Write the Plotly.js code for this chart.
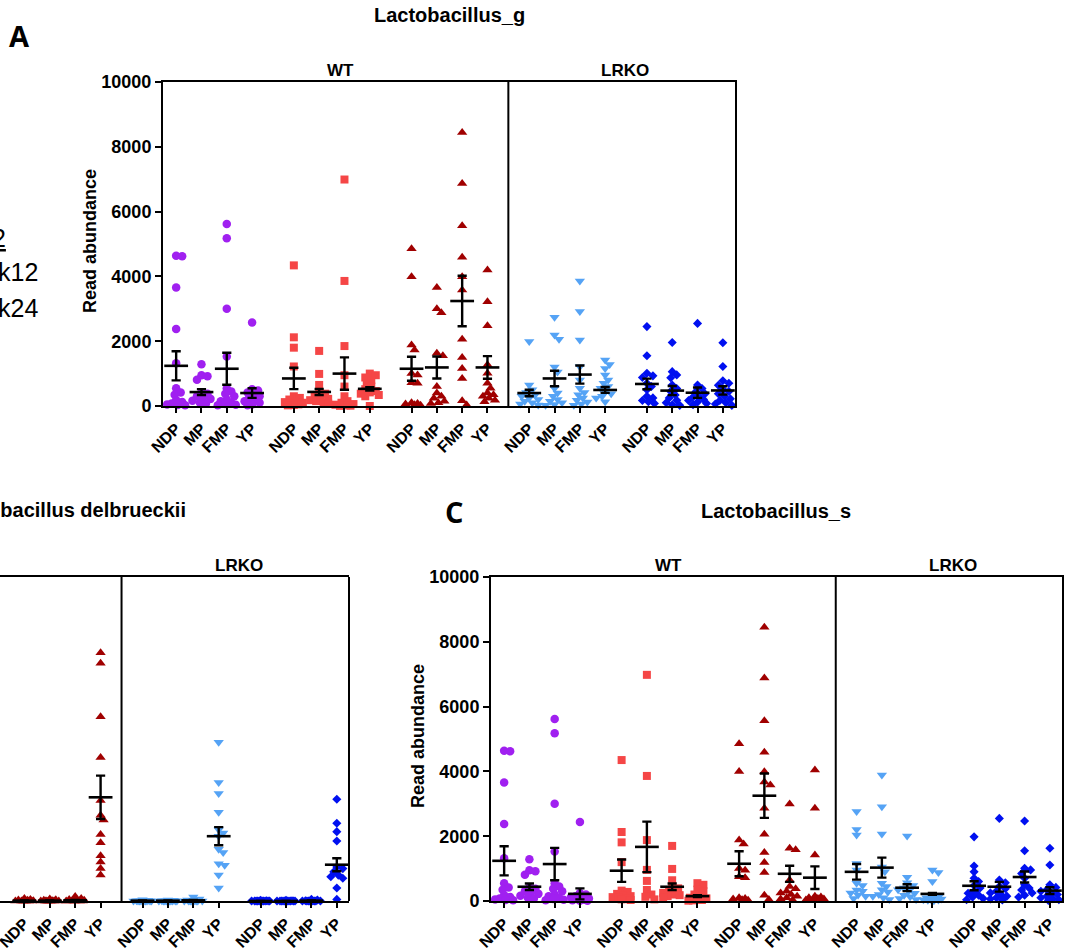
<!DOCTYPE html>
<html><head><meta charset="utf-8">
<script src="https://cdn.plot.ly/plotly-3.0.1.min.js"></script>
<style>html,body{margin:0;padding:0;background:#fff}#chart{width:1072px;height:950px}</style>
</head><body><div id="chart"></div>
<script>
// ---------------- DATA ----------------
const categories = ["NDP", "MP", "FMP", "YP"];
const genotypes = ["WT", "LRKO"];
const panelTitles = ["Lactobacillus_g", "Lactobacillus delbrueckii", "Lactobacillus_s"];
const yTickVals = [0, 2000, 4000, 6000, 8000, 10000];
const yTickText = ["0", "2000", "4000", "6000", "8000", "10000"];

// Panel A (Lactobacillus_g): each group = [NDP, MP, FMP, YP]
const A_purple = [
  [4640, 4620, 3660, 2380, 1320, 550, 420, 350, 180, 120, 80, 50, 30, 20],
  [1290, 950, 920, 810, 420, 380, 300, 260, 220, 160, 100, 80],
  [5620, 5180, 3000, 1530, 550, 450, 380, 300, 200, 150, 100, 60, 40, 20],
  [2580, 520, 480, 420, 380, 300, 250, 200, 150, 100, 50, 20]];
const A_purple_mean = [1240, 430, 1150, 400];
const A_purple_sem = [450, 90, 495, 150];
const A_red = [
  [4340, 2120, 1800, 1220, 300, 250, 200, 150, 120, 100, 80, 50, 30, 20],
  [1700, 990, 650, 420, 380, 300, 260, 220, 180, 150, 100, 80],
  [6990, 3860, 1850, 950, 600, 300, 150, 100, 60, 40, 20, 10, 5],
  [1000, 950, 880, 800, 700, 600, 520, 460, 420, 380, 340, 300, 0]];
const A_red_mean = [850, 435, 1000, 530];
const A_red_sem = [330, 95, 500, 50];
const A_darkred = [
  [4850, 3990, 1880, 1730, 1000, 960, 720, 700, 100, 80, 60, 40, 20],
  [3660, 3000, 2880, 1630, 1550, 600, 400, 300, 240, 150, 100, 80],
  [8440, 6870, 5560, 4590, 3990, 3580, 2060, 1500, 1160, 850, 160, 30],
  [4200, 3220, 2480, 1270, 1010, 700, 550, 400, 350, 300, 240, 180, 130]];
const A_darkred_mean = [1150, 1190, 3240, 1190];
const A_darkred_sem = [370, 340, 780, 350];
const A_lightblue = [
  [1990, 650, 500, 420, 350, 300, 250, 200, 150, 100, 60, 30],
  [2740, 2190, 2060, 1200, 1050, 550, 400, 300, 200, 150, 100, 50, 20],
  [3860, 2920, 2040, 1210, 800, 550, 420, 350, 250, 180, 120, 60, 20],
  [1420, 1280, 1160, 960, 800, 700, 600, 550, 450, 380, 300, 250, 130]];
const A_lightblue_mean = [400, 850, 970, 495];
const A_lightblue_sem = [100, 240, 280, 90];
const A_blue = [
  [2450, 1550, 1010, 930, 880, 700, 600, 500, 300, 250, 170, 130, 80],
  [1960, 1060, 960, 870, 650, 540, 450, 340, 250, 175, 100, 40, 20],
  [2550, 650, 540, 450, 380, 300, 280, 200, 170, 120, 80, 40],
  [1950, 1220, 780, 700, 640, 520, 450, 380, 300, 220, 170, 100, 60, 20]];
const A_blue_mean = [680, 475, 410, 480];
const A_blue_sem = [165, 140, 160, 130];

// Panel B (Lactobacillus delbrueckii), only the visible groups
const B_darkred = [
  [8, 5, 3, 2, 1, 0, 0, 0, 0, 0, 0, 0],
  [6, 4, 2, 1, 0, 0, 0, 0, 0, 0, 0, 0],
  [14, 8, 5, 3, 2, 1, 0, 0, 0, 0, 0, 0],
  [766, 734, 569, 443, 310, 265, 250, 205, 180, 140, 120, 100, 80]];
const B_darkred_mean = [1, 1, 2, 320];
const B_darkred_sem = [0.5, 0.5, 1, 67];
const B_lightblue = [
  [4, 2, 1, 0, 0, 0, 0, 0, 0, 0, 0, 0],
  [3, 2, 1, 0, 0, 0, 0, 0, 0, 0, 0, 0],
  [12, 6, 3, 1, 0, 0, 0, 0, 0, 0, 0, 0],
  [490, 366, 332, 274, 220, 210, 200, 160, 150, 115, 110, 80, 40]];
const B_lightblue_mean = [1, 1, 2, 200];
const B_lightblue_sem = [0.5, 0.5, 1, 28];
const B_blue = [
  [2, 1, 0, 0, 0, 0, 0, 0, 0, 0, 0, 0],
  [2, 1, 0, 0, 0, 0, 0, 0, 0, 0, 0, 0],
  [5, 3, 1, 0, 0, 0, 0, 0, 0, 0, 0, 0],
  [314, 240, 214, 185, 105, 100, 90, 80, 75, 70, 40, 5]];
const B_blue_mean = [0, 0, 1, 112];
const B_blue_sem = [0, 0, 0.5, 20];

// Panel C (Lactobacillus_s)
const C_purple = [
  [4640, 4620, 3660, 2380, 1320, 550, 420, 350, 180, 120, 80, 50, 30, 20],
  [1290, 950, 920, 810, 420, 380, 300, 260, 220, 160, 100, 80],
  [5620, 5180, 3000, 1530, 550, 450, 380, 300, 200, 150, 100, 60, 40, 20],
  [2440, 250, 200, 150, 120, 100, 80, 60, 40, 20, 10, 5]];
const C_purple_mean = [1240, 440, 1140, 220];
const C_purple_sem = [450, 100, 500, 170];
const C_red = [
  [4350, 2130, 1810, 1200, 320, 280, 220, 180, 150, 120, 100, 80, 50, 30],
  [6980, 3860, 1880, 960, 620, 340, 200, 130, 50],
  [1700, 990, 640, 450, 390, 300, 250, 200, 180, 150, 100],
  [550, 500, 350, 300, 200, 150, 100, 80, 50, 30, 20, 10]];
const C_red_mean = [935, 1670, 440, 150];
const C_red_sem = [345, 780, 100, 30];
const C_darkred = [
  [4850, 4000, 1880, 1760, 1000, 950, 750, 720, 100, 80, 60, 40, 20],
  [8450, 6880, 5560, 4590, 3990, 3670, 3580, 2860, 2060, 1500, 1190, 880, 180, 50],
  [2990, 1630, 1580, 650, 450, 380, 300, 250, 200, 150, 100, 60, 30],
  [4040, 2860, 1420, 150, 120, 100, 80, 60, 40, 30, 20, 10]];
const C_darkred_mean = [1150, 3250, 840, 720];
const C_darkred_sem = [385, 685, 250, 350];
const C_lightblue = [
  [2760, 2210, 2040, 1160, 960, 550, 480, 340, 300, 250, 185, 150, 80],
  [3890, 2910, 2070, 1050, 900, 550, 450, 350, 280, 200, 150, 100, 50],
  [2010, 730, 560, 480, 400, 350, 300, 240, 180, 130, 80, 50],
  [960, 880, 600, 150, 120, 100, 80, 60, 50, 40, 30, 20, 10]];
const C_lightblue_mean = [900, 1030, 410, 220];
const C_lightblue_sem = [240, 310, 105, 30];
const C_blue = [
  [1980, 1080, 900, 700, 600, 480, 400, 300, 240, 180, 120, 80, 40],
  [2550, 650, 560, 450, 380, 300, 250, 200, 150, 100, 60, 30],
  [2470, 1550, 1010, 960, 850, 700, 500, 400, 340, 250, 180, 120],
  [1630, 1110, 500, 420, 350, 300, 250, 200, 150, 100, 70, 40, 20]];
const C_blue_mean = [470, 440, 740, 320];
const C_blue_sem = [140, 150, 170, 105];

// ---------------- LAYOUT / STYLE ----------------
const W = 1072, H = 950;
const FONT = "Liberation Sans, Arial, Helvetica, sans-serif";
const styles = [
  {color: "#A020F0", symbol: "circle", size: 8.5},
  {color: "#F54646", symbol: "square", size: 8},
  {color: "#A00000", symbol: "triangle-up", size: 9},
  {color: "#55A3F5", symbol: "triangle-down", size: 9},
  {color: "#0010F0", symbol: "diamond", size: 7}
];
const GROUP_STEP = 4.65;
const SEP = 13.125;
const XR_FULL = [-0.52, 22.08];
const XR_B = [8.34, 22.08];
const px = (x) => x / W;
const py = (y) => 1 - y / H;

const panels = [
  {xa: "x", ya: "y", xd: [163, 735], yd: [82, 406], xr: XR_FULL, yr: [0, 10000],
   groups: [[A_purple, A_purple_mean, A_purple_sem, 0], [A_red, A_red_mean, A_red_sem, 1],
            [A_darkred, A_darkred_mean, A_darkred_sem, 2], [A_lightblue, A_lightblue_mean, A_lightblue_sem, 3],
            [A_blue, A_blue_mean, A_blue_sem, 4]], showY: true},
  {xa: "x2", ya: "y2", xd: [0, 349], yd: [577, 901], xr: XR_B, yr: [0, 1000],
   groups: [[B_darkred, B_darkred_mean, B_darkred_sem, 2], [B_lightblue, B_lightblue_mean, B_lightblue_sem, 3],
            [B_blue, B_blue_mean, B_blue_sem, 4]], showY: false},
  {xa: "x3", ya: "y3", xd: [491, 1062], yd: [577, 901], xr: XR_FULL, yr: [0, 10000],
   groups: [[C_purple, C_purple_mean, C_purple_sem, 0], [C_red, C_red_mean, C_red_sem, 1],
            [C_darkred, C_darkred_mean, C_darkred_sem, 2], [C_lightblue, C_lightblue_mean, C_lightblue_sem, 3],
            [C_blue, C_blue_mean, C_blue_sem, 4]], showY: true}
];

// deterministic beeswarm spread (pixels) so overlapping points sit side by side
function swarm(values, pxPerY, d, maxOff) {
  const order = values.map((v, i) => i).sort((a, b) => values[b] - values[a]);
  const placed = [], offs = new Array(values.length).fill(0);
  const step = 1.5;
  const cands = [0];
  for (let k = 1; k * step <= maxOff; k++) { cands.push(k * step); cands.push(-k * step); }
  for (const i of order) {
    const y = values[i] * pxPerY;
    let chosen = null, bestScore = -1, bestOff = 0;
    for (const c of cands) {
      let minD = Infinity;
      for (const p of placed) minD = Math.min(minD, Math.hypot(p.x - c, p.y - y));
      if (minD >= d) { chosen = c; break; }
      if (minD > bestScore) { bestScore = minD; bestOff = c; }
    }
    if (chosen === null) chosen = bestOff;
    placed.push({x: chosen, y});
    offs[i] = chosen;
  }
  return offs;
}

const traces = [];
const layout = {
  width: W, height: H, margin: {l: 0, r: 0, t: 0, b: 0},
  paper_bgcolor: "#fff", plot_bgcolor: "rgba(0,0,0,0)",
  font: {family: FONT, color: "#000"}, showlegend: false,
  annotations: [], shapes: []
};

const tickVals = [], tickText = [];
for (let g = 0; g < 5; g++) for (let c = 0; c < 4; c++) { tickVals.push(g * GROUP_STEP + c); tickText.push(categories[c]); }

panels.forEach((P, pi) => {
  const wpx = P.xd[1] - P.xd[0], hpx = P.yd[1] - P.yd[0];
  const pxPerX = wpx / (P.xr[1] - P.xr[0]);
  const pxPerY = hpx / (P.yr[1] - P.yr[0]);
  const sfx = pi === 0 ? "" : String(pi + 1);
  layout["xaxis" + sfx] = {
    domain: [px(P.xd[0]), px(P.xd[1])], range: P.xr, anchor: P.ya,
    showgrid: false, zeroline: false, showline: true, linewidth: 2, linecolor: "#000", mirror: true,
    tickmode: "array", tickvals: tickVals, ticktext: tickText, tickangle: -45,
    ticks: "outside", ticklen: 5, tickwidth: 2, tickcolor: "#000", ticklabeloverflow: "allow",
    tickfont: {family: FONT, size: 16, weight: "bold", color: "#000"}, fixedrange: true
  };
  layout["yaxis" + sfx] = {
    domain: [py(P.yd[1]), py(P.yd[0])], range: P.yr, anchor: P.xa,
    showgrid: false, zeroline: false, showline: P.showY, linewidth: 2, linecolor: "#000", mirror: P.showY,
    tickmode: "array", tickvals: P.showY ? yTickVals : [], ticktext: P.showY ? yTickText : [],
    showticklabels: P.showY,
    ticks: P.showY ? "outside" : "", ticklen: 6, tickwidth: 2, tickcolor: "#000",
    tickfont: {family: FONT, size: 18, weight: "bold", color: "#000"}, fixedrange: true
  };
  // points
  P.groups.forEach(([vals, means, sems, gi]) => {
    const st = styles[gi];
    const xs = [], ys = [];
    vals.forEach((arr, c) => {
      const offs = swarm(arr, pxPerY, 5.5, 9);
      arr.forEach((v, k) => { xs.push(gi * GROUP_STEP + c + offs[k] / pxPerX); ys.push(v); });
    });
    traces.push({type: "scatter", mode: "markers", x: xs, y: ys, xaxis: P.xa, yaxis: P.ya,
      cliponaxis: false, hoverinfo: "skip",
      marker: {symbol: st.symbol, color: st.color, size: st.size, line: {width: 0}}});
  });
  // mean ± SEM
  P.groups.forEach(([vals, means, sems, gi]) => {
    traces.push({type: "scatter", mode: "markers", x: categories.map((c, i) => gi * GROUP_STEP + i),
      y: means, xaxis: P.xa, yaxis: P.ya, cliponaxis: false, hoverinfo: "skip",
      marker: {symbol: "line-ew", size: 17, color: "#000", line: {width: 2.6, color: "#000"}},
      error_y: {type: "data", array: sems, visible: true, color: "#000", thickness: 2.4, width: 4.6}});
  });
  // WT | LRKO separator
  layout.shapes.push({type: "line", xref: P.xa, yref: P.ya + " domain", x0: SEP, x1: SEP, y0: 0, y1: 1,
    line: {color: "#000", width: 2}});
  if (!P.showY) {
    layout.shapes.push({type: "line", xref: P.xa + " domain", yref: P.ya + " domain", x0: 1, x1: 1, y0: 0, y1: 1,
      line: {color: "#000", width: 2}});
  }
  // genotype labels
  const gx = [6.5, 17.75];
  genotypes.forEach((g, i) => {
    if (gx[i] < P.xr[0]) return;
    layout.annotations.push({xref: P.xa, yref: "paper", x: gx[i], y: py(P.yd[0] - 12),
      text: "<b>" + g + "</b>", showarrow: false, xanchor: "center", yanchor: "middle",
      font: {family: FONT, size: 17, color: "#000"}});
  });
  if (P.showY) {
    layout.annotations.push({xref: "paper", yref: "paper", x: px(P.xd[0] - 73), y: py((P.yd[0] + P.yd[1]) / 2 - 3),
      text: "<b>Read abundance</b>", textangle: -90, showarrow: false, xanchor: "center", yanchor: "middle",
      font: {family: FONT, size: 18, color: "#000"}});
  }
});

function ann(text, x, y, size, xanchor, family) {
  layout.annotations.push({xref: "paper", yref: "paper", x: px(x), y: py(y), text, showarrow: false,
    xanchor: xanchor || "center", yanchor: "middle", font: {family: family || FONT, size, color: "#000"}});
}
// panel titles
ann("<b>" + panelTitles[0] + "</b>", 449, 15, 20);
ann("<b>" + panelTitles[1] + "</b>", 188, 510, 20, "right");
ann("<b>" + panelTitles[2] + "</b>", 776, 511, 20);
// panel letters
ann("<b>A</b>", 19, 35, 29, "center", "Open Sans, Noto Sans, sans-serif");
ann("<b>C</b>", 454, 511, 29, "center", "Open Sans, Noto Sans, sans-serif");
// legend fragments cut at the left edge
ann("<u>2</u>", 8, 238, 25, "right");
ann("k12", 40, 272, 25, "right");
ann("k24", 40, 308, 25, "right");

Plotly.newPlot("chart", traces, layout, {staticPlot: true, displayModeBar: false});
</script>
</body></html>
